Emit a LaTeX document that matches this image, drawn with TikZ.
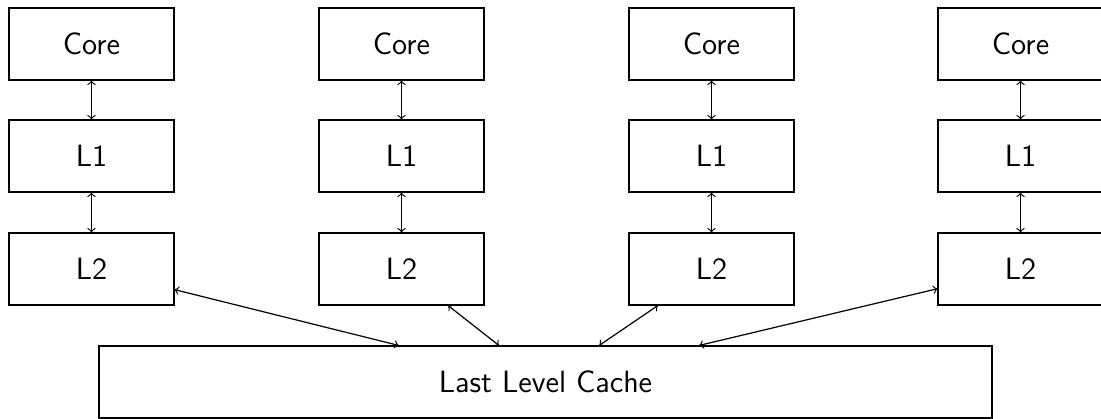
\documentclass[tikz,border=0pt]{standalone}
\begin{document}
\begin{tikzpicture}[x=0.5pt,y=-0.5pt,
  box/.style={draw, line width=0.6pt, minimum width=82.5pt, minimum height=36pt, inner sep=0pt, font=\sffamily\fontsize{15.4}{18}\selectfont},
  conn/.style={<->, line width=0.6pt}]
\useasboundingbox (0,0) rectangle (1101,418);
\foreach \i/\x in {1/91.5, 2/401.5, 3/711.5, 4/1020.5}{
  \node[box] (core\i) at (\x,44) {Core};
  \node[box] (lone\i) at (\x,156) {L1};
  \node[box] (ltwo\i) at (\x,269) {L2};
  \draw[conn] (core\i) -- (lone\i);
  \draw[conn] (lone\i) -- (ltwo\i);
}
\node[box, minimum width=446.5pt] (llc) at (545.5,382) {Last Level Cache};
\foreach \i in {1,2,3,4}{
  \draw[conn] (ltwo\i) -- (llc);
}
\end{tikzpicture}
\end{document}
